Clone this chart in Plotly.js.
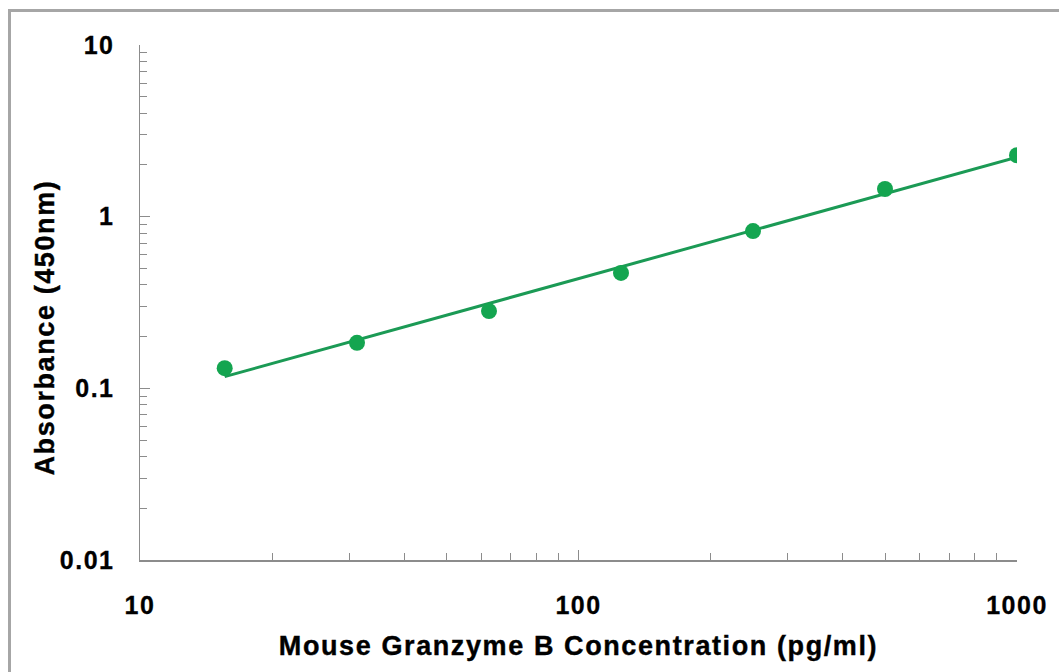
<!DOCTYPE html>
<html>
<head>
<meta charset="utf-8">
<script src="https://cdn.plot.ly/plotly-3.0.1.min.js"></script>
<style>
  html, body { margin: 0; padding: 0; background: #fff; }
  #frame { position: absolute; left: 8px; top: 9px; width: 1100px; height: 700px;
           border: 3px solid #a6a6a6; box-sizing: border-box; pointer-events: none; }
  #chart { position: absolute; left: 0; top: 0; width: 1059px; height: 672px; }
  .xtitle { letter-spacing: 1.6px; stroke: #000; stroke-width: 0.4px; }
  .annotation-text { letter-spacing: 1.6px; stroke: #000; stroke-width: 0.4px; }
  .xtick text, .ytick text { letter-spacing: 1.5px; stroke: #000; stroke-width: 0.3px; }
</style>
</head>
<body>
<div id="chart"></div>
<div id="frame"></div>
<script>
// Standard concentrations (pg/ml) and measured absorbance (450 nm)
const concentration = [15.6, 31.25, 62.5, 125, 250, 500, 1000];
const absorbance    = [0.131, 0.184, 0.282, 0.47, 0.824, 1.45, 2.28];
// Fitted standard curve (end points)
const fitX = [15.6, 1000];
const fitY = [0.117, 2.22];
// Axis tick labels
const xTickVals = [10, 100, 1000];
const xTickText = ['10', '100', '1000'];
const yTickVals = [0.01, 0.1, 1, 10];
const yTickText = ['0.01', '0.1', '1', '10'];
const xTitle = 'Mouse Granzyme B Concentration (pg/ml)';
const yTitle = 'Absorbance (450nm)';

const green = '#14a550';
const axisGray = '#8c8c8c';
const fontFam = '"Liberation Sans", Arial, sans-serif';

const traces = [
  { x: fitX, y: fitY, type: 'scatter', mode: 'lines',
    line: { color: '#1b9a55', width: 3 }, hoverinfo: 'skip', showlegend: false },
  { x: concentration, y: absorbance, type: 'scatter', mode: 'markers',
    marker: { color: green, size: 16 }, showlegend: false }
];

const layout = {
  width: 1059, height: 672,
  margin: { l: 140, r: 42, t: 45, b: 112 },
  paper_bgcolor: '#ffffff', plot_bgcolor: '#ffffff',
  font: { family: fontFam, color: '#000' },
  xaxis: {
    type: 'log', range: [1, 3], showgrid: false, zeroline: false,
    showline: true, linecolor: axisGray, linewidth: 1.5,
    ticks: 'inside', ticklen: 10, tickcolor: axisGray, tickwidth: 1,
    tickvals: xTickVals, ticktext: xTickText,
    tickfont: { family: fontFam, size: 25, color: '#000', weight: 'bold' },
    ticklabelstandoff: 22,
    minor: { ticks: 'inside', ticklen: 7, tickcolor: axisGray, dtick: 'D1', showgrid: false },
    title: { text: xTitle, standoff: 18,
             font: { family: fontFam, size: 27, color: '#000', weight: 'bold' } }
  },
  yaxis: {
    type: 'log', range: [-2, 1], showgrid: false, zeroline: false,
    showline: true, linecolor: axisGray, linewidth: 1.5,
    ticks: 'inside', ticklen: 10, tickcolor: axisGray, tickwidth: 1,
    tickvals: yTickVals, ticktext: yTickText,
    tickfont: { family: fontFam, size: 25, color: '#000', weight: 'bold' },
    ticklabelstandoff: 19,
    minor: { ticks: 'inside', ticklen: 7, tickcolor: axisGray, dtick: 'D1', showgrid: false }
  },
  annotations: [{
    text: yTitle, xref: 'paper', yref: 'paper',
    x: -0.108, y: 0.452, xanchor: 'center', yanchor: 'middle',
    textangle: -90, showarrow: false,
    font: { family: fontFam, size: 27, color: '#000', weight: 'bold' }
  }]
};

Plotly.newPlot('chart', traces, layout, { displayModeBar: false, staticPlot: true });
</script>
</body>
</html>
